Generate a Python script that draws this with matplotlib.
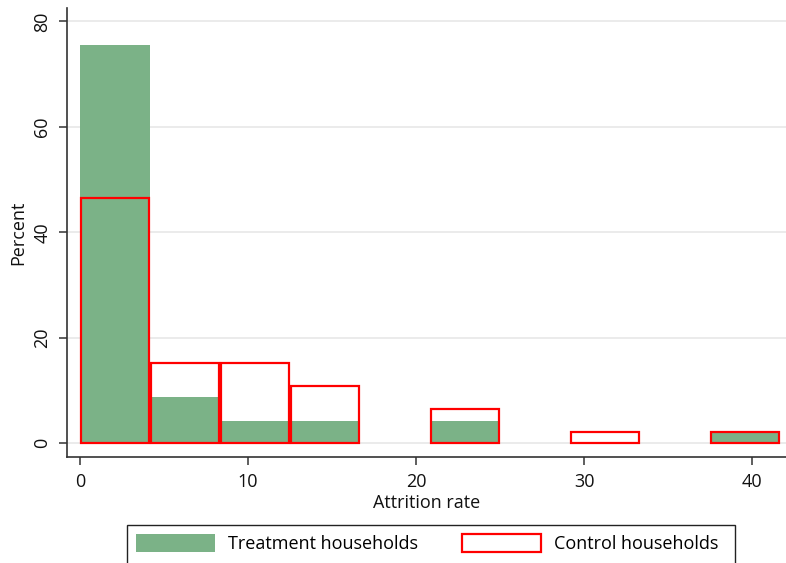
import numpy as np
import matplotlib
matplotlib.use("Agg")
import matplotlib.pyplot as plt
from matplotlib.patches import Patch, Rectangle

plt.rcParams['font.family'] = ['Open Sans', 'DejaVu Sans']

# Data: histogram bin heights (percent), 10 equal bins from 0 to 41.67
bin_start = 0.0
bin_width = 41.67 / 10
treatment = [75.6, 8.8, 4.3, 4.3, 0, 4.3, 0, 0, 0, 2.0]
control = [46.5, 15.3, 15.3, 10.9, 0, 6.45, 0, 2.1, 0, 2.1]
xticks = [0, 10, 20, 30, 40]
yticks = [0, 20, 40, 60, 80]
labels = ["Treatment households", "Control households"]

green = '#7bb287'
red = '#ff0000'

W, H = 786, 563
fig = plt.figure(figsize=(W / 100, H / 100), dpi=100)
ax = fig.add_axes([66.5 / W, 1 - 456.7 / H, (786 - 66.5) / W, (456.7 - 8.3) / H])

lefts = bin_start + np.arange(len(treatment)) * bin_width
t_mask = np.array(treatment) > 0
c_mask = np.array(control) > 0
ax.bar(lefts[t_mask], np.array(treatment)[t_mask], width=bin_width, align='edge',
       color=green, edgecolor='none', zorder=2)
ax.bar(lefts[c_mask] + 0.06, np.array(control)[c_mask], width=bin_width - 0.12, align='edge',
       facecolor='none', edgecolor=red, linewidth=1.6, zorder=3)

ax.set_xlim(-0.79, 42.0)
ax.set_ylim(-2.54, 82.5)
ax.set_xticks(xticks)
ax.set_yticks(yticks)
ax.yaxis.grid(True, color='#e8e8e8', linewidth=1.2, zorder=0)
ax.set_axisbelow(True)
for s in ['top', 'right']:
    ax.spines[s].set_visible(False)
for s in ['left', 'bottom']:
    ax.spines[s].set_color('#333333')
    ax.spines[s].set_linewidth(1.2)
ax.tick_params(axis='both', direction='out', length=6, width=1.1, color='#333333',
               labelsize=13, labelcolor='#111111')
ax.tick_params(axis='x', pad=6)
ax.tick_params(axis='y', pad=5, labelrotation=90)
for lab in ax.get_yticklabels():
    lab.set_va('center')
ax.set_xlabel("Attrition rate", fontsize=13, color='#111111', labelpad=2)
ax.set_ylabel("Percent", fontsize=13, color='#111111', labelpad=4)

handles = [Patch(facecolor=green, edgecolor='none'),
           Patch(facecolor='white', edgecolor=red, linewidth=1.6)]
leg = fig.legend(handles, labels, ncol=2, loc='upper left',
                 bbox_to_anchor=(126.7 / W, 1 - 525 / H),
                 fontsize=13, frameon=False,
                 handlelength=4.4, handleheight=1.17,
                 borderaxespad=0, borderpad=0.5, columnspacing=2.4, handletextpad=0.72)
fig.patches.append(Rectangle((126.7 / W, -5 / H), (735 - 126.7) / W, (563 + 5 - 525) / H,
                             transform=fig.transFigure, facecolor='none',
                             edgecolor='#222222', linewidth=1.0))

fig.savefig("out.png", dpi=100)
